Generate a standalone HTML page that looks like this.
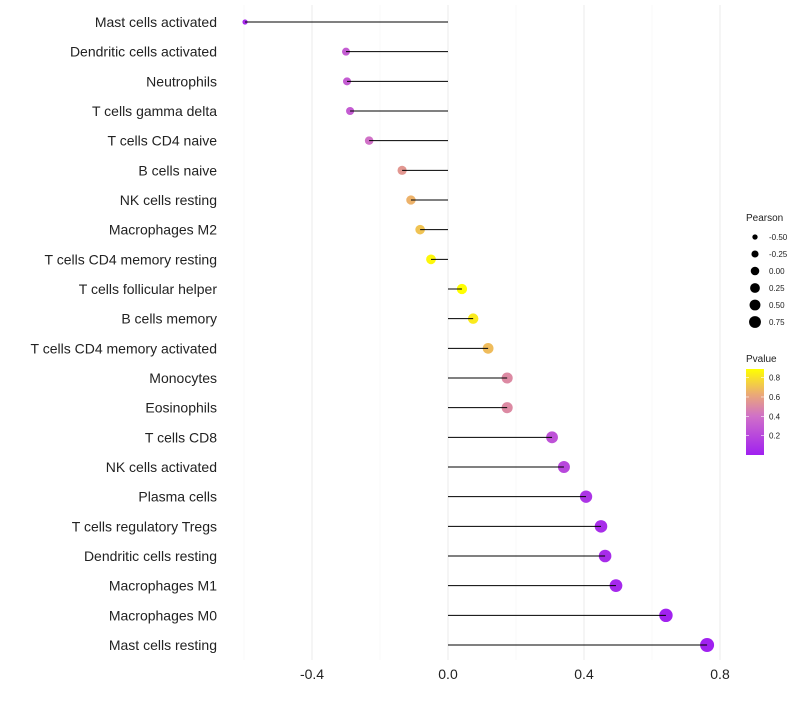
<!DOCTYPE html>
<html><head><meta charset="utf-8"><style>
body{margin:0;background:#fff;font-family:"Liberation Sans",sans-serif}
</style></head><body>
<svg id="chart" width="800" height="700" xmlns="http://www.w3.org/2000/svg"></svg>
<script>
const categories=["Mast cells activated","Dendritic cells activated","Neutrophils","T cells gamma delta","T cells CD4 naive","B cells naive","NK cells resting","Macrophages M2","T cells CD4 memory resting","T cells follicular helper","B cells memory","T cells CD4 memory activated","Monocytes","Eosinophils","T cells CD8","NK cells activated","Plasma cells","T cells regulatory  Tregs ","Dendritic cells resting","Macrophages M1","Macrophages M0","Mast cells resting"];
const pearson=[-0.597,-0.30,-0.297,-0.288,-0.232,-0.135,-0.109,-0.082,-0.05,0.041,0.074,0.118,0.174,0.174,0.306,0.341,0.406,0.45,0.462,0.494,0.641,0.762];
const pvalues=[0.05,0.3,0.3,0.3,0.4,0.55,0.65,0.7,0.86,0.88,0.82,0.68,0.5,0.5,0.25,0.2,0.1,0.07,0.06,0.04,0.01,0.003];
const xTicks=[-0.4,0,0.4,0.8];
const xTickLabels=["-0.4","0.0","0.4","0.8"];
const minorTicks=[-0.6,-0.2,0.2,0.6];
const sizeLegend=[-0.5,-0.25,0,0.25,0.5,0.75];
const colorTicks=[0.2,0.4,0.6,0.8];
const NS="http://www.w3.org/2000/svg";
const svg=document.getElementById("chart");
const x=v=>448+v*340;
const y=i=>22+i*(623/21);
const rad=v=>Math.sqrt(Math.max(2.2,31.1*(v+0.814)));
const stops=[[0,[160,32,240]],[0.45,[208,112,200]],[0.7,[234,168,120]],[1,[255,255,0]]];
function col(p){const t=Math.min(1,Math.max(0,p/0.883));
 for(let i=1;i<stops.length;i++){if(t<=stops[i][0]){const a=stops[i-1],b=stops[i];const u=(t-a[0])/(b[0]-a[0]);
  return `rgb(${a[1].map((c,k)=>Math.round(c+(b[1][k]-c)*u))})`;}}return "rgb(255,255,0)";}
function mk(tag,attrs,parent){const e=document.createElementNS(NS,tag);for(const k in attrs)e.setAttribute(k,attrs[k]);(parent||svg).appendChild(e);return e;}
minorTicks.forEach(v=>{const l=mk("line",{x1:x(v),x2:x(v),y1:5,y2:660,stroke:"#f3f3f3","stroke-width":0.6});

});
xTicks.forEach((v,i)=>{const l=mk("line",{x1:x(v),x2:x(v),y1:5,y2:660,stroke:"#ebebeb","stroke-width":1});


const t=mk("text",{x:x(v),y:679,"text-anchor":"middle","font-size":14,fill:"#222"});t.textContent=xTickLabels[i];

});
categories.forEach((c,i)=>{
 const t=mk("text",{x:217,y:y(i)+5,"text-anchor":"end","font-size":14,fill:"#222"});t.textContent=c;
 
 
 const p=mk("circle",{cx:x(pearson[i]),cy:y(i),r:rad(pearson[i]),fill:col(pvalues[i])});
 
 
 const l=mk("line",{x1:x(0),x2:x(pearson[i]),y1:y(i),y2:y(i),stroke:"#000","stroke-width":1});
 
 
});
const lt=mk("text",{x:746,y:221,"font-size":10,fill:"#222"});lt.textContent="Pearson";


sizeLegend.forEach((v,i)=>{const cy=237+i*17;
 const c=mk("circle",{cx:755,cy:cy,r:rad(v)*0.85,fill:"#000"});
 
 
 const t=mk("text",{x:769,y:cy+3,"font-size":8,fill:"#222"});t.textContent=v.toFixed(2);
 
 });
const pt=mk("text",{x:746,y:362,"font-size":10,fill:"#222"});pt.textContent="Pvalue";


const defs=mk("defs",{});const g=mk("linearGradient",{id:"gr",x1:0,y1:1,x2:0,y2:0},defs);
stops.forEach(s=>mk("stop",{offset:s[0],"stop-color":`rgb(${s[1]})`},g));
const bar=mk("rect",{x:746,y:369,width:18,height:86,fill:"url(#gr)"});


colorTicks.forEach(v=>{const cy=455-v*96.7;
 mk("line",{x1:746,x2:749,y1:cy,y2:cy,stroke:"#fff","stroke-width":0.6});mk("line",{x1:761,x2:764,y1:cy,y2:cy,stroke:"#fff","stroke-width":0.6});
 const t=mk("text",{x:769,y:cy+3,"font-size":8,fill:"#222"});t.textContent=v.toFixed(1);
 
 });
</script>
</body></html>
